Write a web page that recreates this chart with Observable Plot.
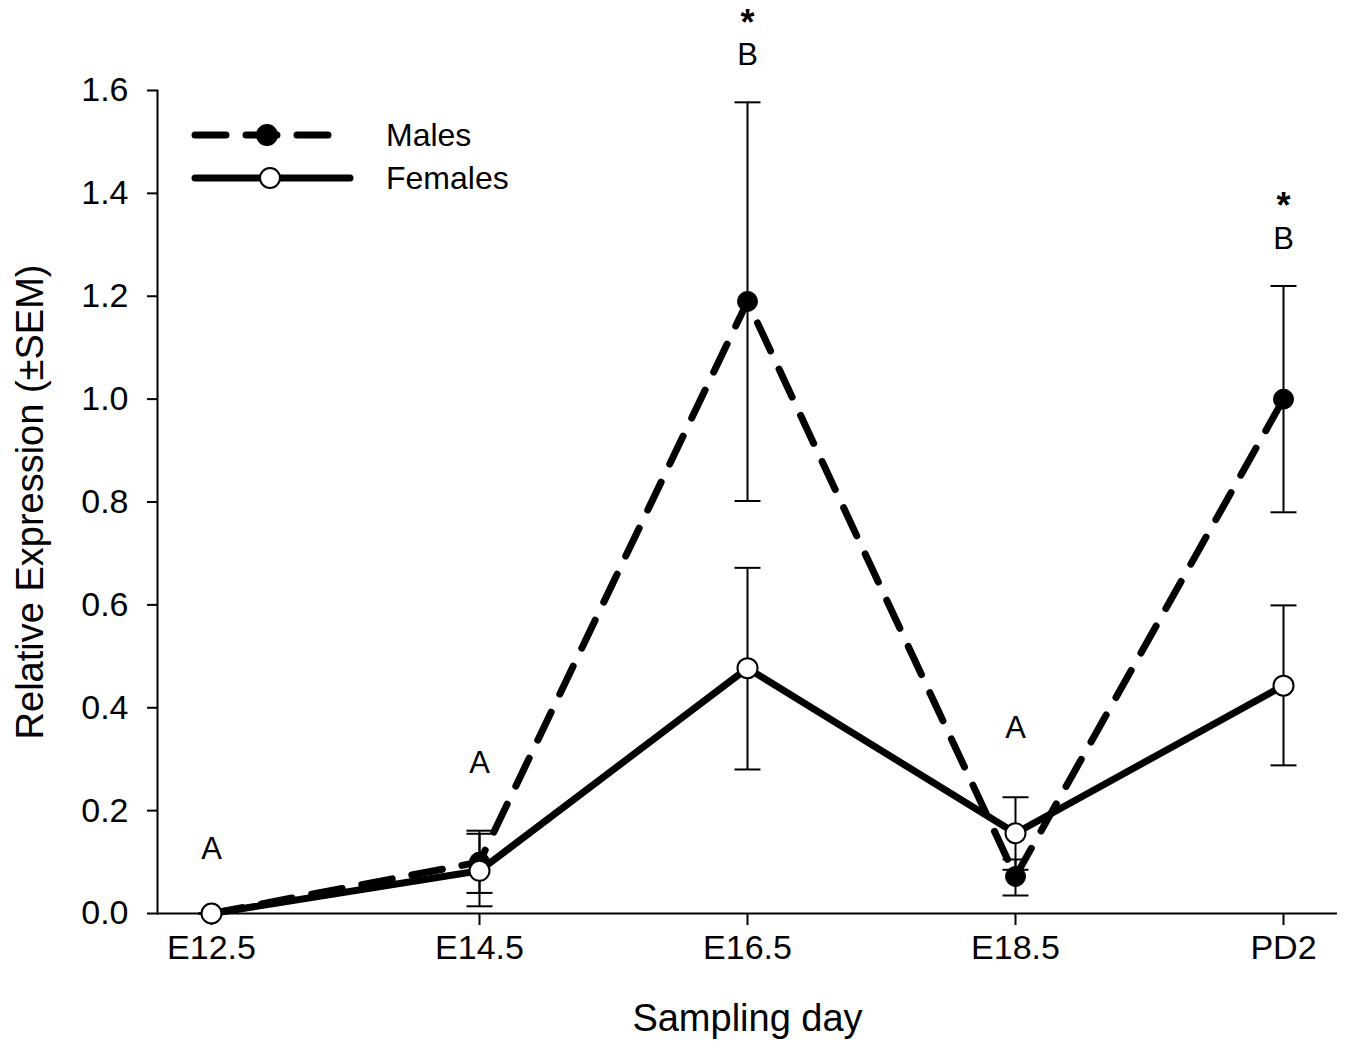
<!DOCTYPE html>
<html>
<head>
<meta charset="utf-8">
<script src="https://cdn.jsdelivr.net/npm/d3@7"></script>
<script src="https://cdn.jsdelivr.net/npm/@observablehq/plot@0.6"></script>
<style>
  body { margin: 0; background: #fff; }
  #wrap { position: relative; width: 1349px; height: 1051px; font-family: "Liberation Sans", Arial, sans-serif; }
  #legend { position: absolute; left: 0; top: 0; }
</style>
</head>
<body>
<div id="wrap"></div>
<script>
// ---- data ----
const days = ["E12.5", "E14.5", "E16.5", "E18.5", "PD2"];
const maleMean = [0.0, 0.100, 1.190, 0.072, 1.000];
const maleLo   = [0.0, 0.040, 0.802, 0.035, 0.780];
const maleHi   = [0.0, 0.161, 1.577, 0.105, 1.220];
const femaleMean = [0.0, 0.083, 0.477, 0.156, 0.443];
const femaleLo   = [0.0, 0.014, 0.280, 0.085, 0.288];
const femaleHi   = [0.0, 0.155, 0.672, 0.226, 0.599];
const letters  = ["A", "A", "B", "A", "B"];
const letterY  = [0.126, 0.292, 1.668, 0.361, 1.312];
const stars    = ["", "", "*", "", "*"];
const yTicks = [0, 0.2, 0.4, 0.6, 0.8, 1.0, 1.2, 1.4, 1.6];
const seriesNames = ["Males", "Females"];

const males = days.map((d, i) => ({day: d, mean: maleMean[i], lo: maleLo[i], hi: maleHi[i]}));
const females = days.map((d, i) => ({day: d, mean: femaleMean[i], lo: femaleLo[i], hi: femaleHi[i]}));
const notes = days.map((d, i) => ({day: d, y: letterY[i], letter: letters[i], star: stars[i]}));

const FONT = "Liberation Sans, Arial, sans-serif";
const capSymbol = { draw(context) { context.moveTo(-13, 0); context.lineTo(13, 0); } };

const plot = Plot.plot({
  width: 1349,
  height: 1051,
  marginLeft: 157,
  marginRight: 12,
  marginTop: 90,
  marginBottom: 138,
  style: { fontFamily: FONT, fontSize: "32px", color: "#000", background: "#fff", overflow: "visible" },
  x: { type: "point", domain: days, padding: 0.2, label: null },
  y: { domain: [0, 1.6], label: null },
  marks: [
    Plot.axisX({ tickSize: 12, tickPadding: 9, fontSize: 34, strokeWidth: 2, label: null }),
    Plot.axisY({ ticks: yTicks, tickSize: 10, tickPadding: 19, fontSize: 34, strokeWidth: 2, tickFormat: d3.format(".1f"), label: null }),
    Plot.frame({ anchor: "left", strokeWidth: 2 }),
    Plot.ruleY([0], { strokeWidth: 2 }),
    // error bars
    Plot.ruleX(males, { x: "day", y1: "lo", y2: "hi", strokeWidth: 2 }),
    Plot.ruleX(females, { x: "day", y1: "lo", y2: "hi", strokeWidth: 2 }),
    Plot.dot(males, { x: "day", y: "hi", symbol: capSymbol, stroke: "black", strokeWidth: 2, r: 5 }),
    Plot.dot(males, { x: "day", y: "lo", symbol: capSymbol, stroke: "black", strokeWidth: 2, r: 5 }),
    Plot.dot(females, { x: "day", y: "hi", symbol: capSymbol, stroke: "black", strokeWidth: 2, r: 5 }),
    Plot.dot(females, { x: "day", y: "lo", symbol: capSymbol, stroke: "black", strokeWidth: 2, r: 5 }),
    // lines
    Plot.line(males, { x: "day", y: "mean", stroke: "black", strokeWidth: 7, strokeDasharray: "31,20", strokeLinecap: "round", strokeLinejoin: "round" }),
    Plot.line(females, { x: "day", y: "mean", stroke: "black", strokeWidth: 7, strokeLinecap: "round", strokeLinejoin: "round" }),
    Plot.dot(males, { x: "day", y: "mean", r: 10, fill: "black", stroke: "black", strokeWidth: 1 }),
    Plot.dot(females, { x: "day", y: "mean", r: 10, fill: "white", stroke: "black", strokeWidth: 2 }),
    // annotations
    Plot.text(notes, { x: "day", y: "y", text: "letter", fontSize: 31 }),
    Plot.text(notes, { x: "day", y: "y", text: "star", fontSize: 36, fontWeight: "bold", dy: -32, lineAnchor: "middle" }),
    // axis titles
    Plot.text(["Sampling day"], { frameAnchor: "bottom", dy: 117, fontSize: 38 }),
    Plot.text(["Relative Expression (±SEM)"], { frameAnchor: "left", textAnchor: "middle", rotate: -90, dx: -127, fontSize: 38 })
  ]
});

const wrap = document.getElementById("wrap");
wrap.appendChild(plot);

// legend overlay
const lg = d3.select(wrap).append("svg").attr("id", "legend").attr("width", 1349).attr("height", 240)
  .style("font-family", FONT);
const rows = [
  { name: seriesNames[0], y: 135, dash: "31,20", fill: "black", x2: 332, cx: 267 },
  { name: seriesNames[1], y: 178, dash: null, fill: "white", x2: 350, cx: 270 }
];
rows.forEach(r => {
  lg.append("line").attr("x1", 195).attr("x2", r.x2).attr("y1", r.y).attr("y2", r.y)
    .attr("stroke", "black").attr("stroke-width", 7).attr("stroke-linecap", "round")
    .attr("stroke-dasharray", r.dash);
  lg.append("circle").attr("cx", r.cx).attr("cy", r.y).attr("r", 10)
    .attr("fill", r.fill).attr("stroke", "black").attr("stroke-width", 2);
  lg.append("text").attr("x", 386).attr("y", r.y + 11).attr("font-size", 32).text(r.name);
});
</script>
</body>
</html>
